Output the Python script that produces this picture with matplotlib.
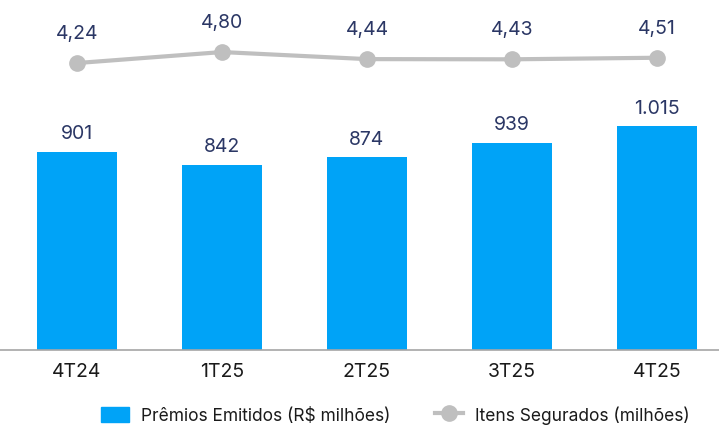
import numpy as np
import matplotlib.pyplot as plt
from matplotlib.lines import Line2D
from matplotlib.patches import Patch

plt.rcParams['font.family'] = ['Inter', 'DejaVu Sans']

quarters = ['4T24', '1T25', '2T25', '3T25', '4T25']
premios = [901, 842, 874, 939, 1015]
premios_lbl = ['901', '842', '874', '939', '1.015']
itens = [4.24, 4.80, 4.44, 4.43, 4.51]
itens_lbl = ['4,24', '4,80', '4,44', '4,43', '4,51']

bar_color = '#00A3F7'
line_color = '#BFBFBF'
text_color = '#2B3765'

fig = plt.figure(figsize=(7.19, 4.27), dpi=100)
ax = fig.add_axes([0, 76/427, 1, 350/427])
x = np.arange(len(quarters))

ax.bar(x, premios, width=0.55, color=bar_color, zorder=2)
ax.set_ylim(0, 1589)
ax.set_xlim(-77/145, 642/145)
for xi, v, t in zip(x, premios, premios_lbl):
    ax.annotate(t, (xi, v), xytext=(0, 7), textcoords='offset points',
                ha='center', va='bottom', fontsize=14, color=text_color)

ax2 = ax.twinx()
ax2.plot(x, itens, color=line_color, linewidth=3, marker='o', markersize=11, zorder=3)
ax2.set_ylim(-10.37, 7.45)
for xi, v, t in zip(x, itens, itens_lbl):
    ax2.annotate(t, (xi, v), xytext=(0, 15), textcoords='offset points',
                 ha='center', va='bottom', fontsize=14, color=text_color)

for a in (ax, ax2):
    for s in ['top', 'left', 'right']:
        a.spines[s].set_visible(False)
    a.set_yticks([])
ax2.spines['bottom'].set_visible(False)
ax.spines['bottom'].set_color('#A6A6A6')
ax.spines['bottom'].set_linewidth(1.2)
ax.set_xticks(x)
ax.set_xticklabels(quarters, fontsize=14, color='#1A1A1A')
ax.tick_params(axis='x', length=0, pad=9)

handles = [Patch(color=bar_color, label='Prêmios Emitidos (R$ milhões)'),
           Line2D([0], [0], color=line_color, linewidth=3, marker='o', markersize=11,
                  label='Itens Segurados (milhões)')]
fig.legend(handles=handles, loc='center', bbox_to_anchor=(0.55, 11/427), ncol=2,
           frameon=False, fontsize=12.5, handlelength=1.6, handleheight=1.0,
           handletextpad=0.7, columnspacing=2.6, labelcolor='#1A1A1A')

fig.savefig('out.png', dpi=100)
